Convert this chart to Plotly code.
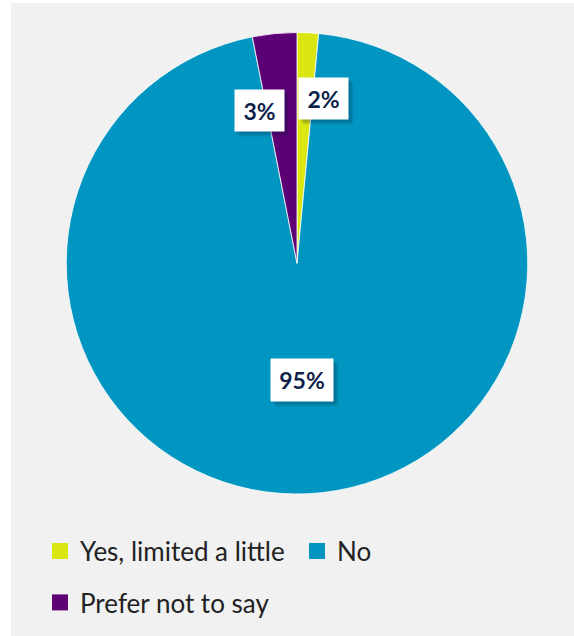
import plotly.graph_objects as go

# ---- data ----
categories = ["Yes, limited a little", "No", "Prefer not to say"]
values = [1.5, 95.4, 3.1]
label_text = ["2%", "95%", "3%"]
colors = ["#d9e612", "#0096c1", "#5c0075"]
legend_rows = ["legend", "legend", "legend2"]

# ---- layout constants (pixels) ----
W, H = 574, 636
def px(x):
    return x / W
def py(y):
    return 1 - y / H

# label box centre x, centre y, width, height
label_boxes = [(323.5, 98.5, 49, 41), (302, 380, 62, 42), (259.5, 110.5, 49, 41)]
TEXT_NAVY = "#0f1f4b"

fig = go.Figure()
fig.add_trace(go.Pie(
    labels=categories, values=values, sort=False, direction="clockwise", rotation=0,
    marker=dict(colors=colors, line=dict(color="white", width=0.8)),
    textinfo="none", hoverinfo="label+percent", showlegend=False,
    domain=dict(x=[px(66), px(528)], y=[py(494), py(32.5)]),
))

for cat, col, lg in zip(categories, colors, legend_rows):
    fig.add_trace(go.Scatter(
        x=[None], y=[None], mode="markers", name=cat, legend=lg, showlegend=True,
        marker=dict(symbol="square", size=16, color=col, line=dict(width=0)),
        hoverinfo="skip",
    ))

annotations = []
for txt, (cx, cy, bw, bh) in zip(label_text, label_boxes):
    for off, alpha in ((5, 0.10), (3, 0.18)):
        annotations.append(dict(
            x=px(cx + off), y=py(cy + off), xref="paper", yref="paper",
            xanchor="center", yanchor="middle", text=" ", showarrow=False,
            width=bw, height=bh, borderpad=0, bgcolor=f"rgba(0,30,50,{alpha})",
        ))
    annotations.append(dict(
        x=px(cx), y=py(cy), xref="paper", yref="paper",
        xanchor="center", yanchor="middle", text=txt, showarrow=False,
        width=bw, height=bh, borderpad=0, bgcolor="white",
        font=dict(family="Lato", size=23, color=TEXT_NAVY, weight=700),
    ))

legend_common = dict(
    orientation="h", xanchor="left", yanchor="middle",
    font=dict(family="Lato", size=26, color="#222222"),
    bgcolor="rgba(0,0,0,0)", entrywidth=212, entrywidthmode="pixels",
    itemclick=False, itemdoubleclick=False,
)

fig.update_layout(
    width=W, height=H,
    margin=dict(l=0, r=0, t=0, b=0),
    paper_bgcolor="white", plot_bgcolor="rgba(0,0,0,0)",
    xaxis=dict(visible=False), yaxis=dict(visible=False),
    shapes=[dict(type="rect", xref="paper", yref="paper", x0=px(11), x1=1, y0=0, y1=py(3),
                 fillcolor="#f1f1f1", line=dict(width=0), layer="below")],
    annotations=annotations,
    legend=dict(x=px(40), y=py(551), **legend_common),
    legend2=dict(x=px(40), y=py(602.5), **legend_common),
)

fig.write_html("out.html")
